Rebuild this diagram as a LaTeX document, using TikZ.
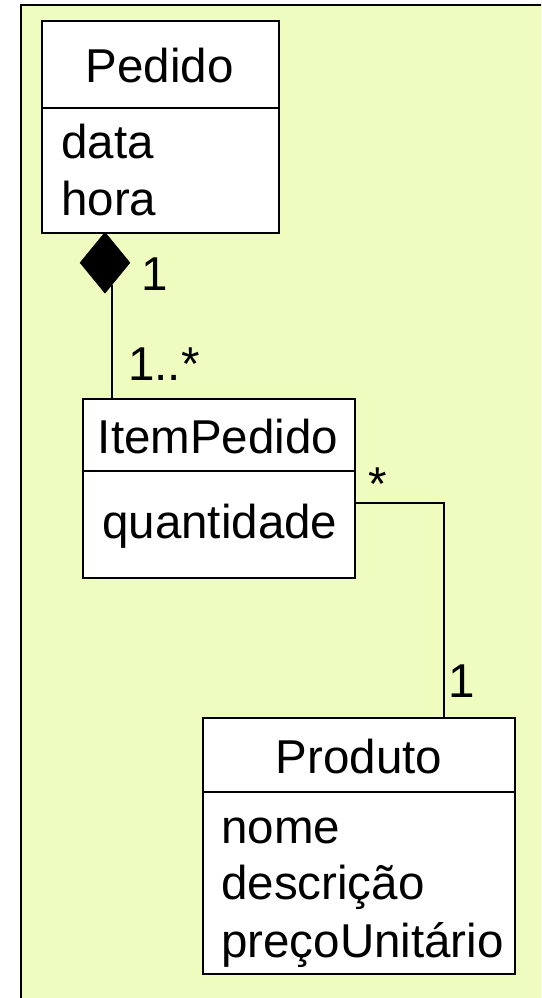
\documentclass[tikz,border=0pt]{standalone}
\usepackage{fontspec}
\setmainfont{Liberation Sans}
\usetikzlibrary{shapes.geometric}
\definecolor{bgc}{RGB}{238,252,192}
\begin{document}
\begin{tikzpicture}[x=1pt,y=-1pt,
  panel/.style={fill=bgc, draw=black, line width=2.5pt},
  umlbox/.style={draw=black, fill=white, line width=2pt, anchor=north west, inner sep=0pt},
  umltext/.style={font=\fontsize{47.5}{57}\selectfont, inner sep=0pt},
  link/.style={draw=black, line width=1.5pt},
  compdia/.style={diamond, fill=black, draw=black, line width=0.5pt, inner sep=0pt, minimum width=50pt, minimum height=61pt}
]
\useasboundingbox (0,0) rectangle (541,998);
\clip (0,0) rectangle (541,998);
\draw[panel] (21,5) rectangle (570,1030);

% Pedido
\node[umlbox, minimum width=237pt, minimum height=87pt] (pedH) at (41,20) {};
\node[umlbox, minimum width=237pt, minimum height=125pt] (pedB) at (41,107) {};
\node[umltext, anchor=base] (pedT) at (159.5,82) {Pedido};
\node[umltext, anchor=base west] (pedA1) at (61,158) {data};
\node[umltext, anchor=base west] (pedA2) at (61,215) {hora};

% ItemPedido
\node[umlbox, minimum width=272pt, minimum height=72pt] (itemH) at (82,398) {};
\node[umlbox, minimum width=272pt, minimum height=107pt] (itemB) at (82,470) {};
\node[umltext, anchor=base] (itemT) at (218,453) {ItemPedido};
\node[umltext, anchor=base west] (itemA1) at (102,538) {quantidade};

% Produto
\node[umlbox, minimum width=312pt, minimum height=74pt] (prodH) at (202,717) {};
\node[umlbox, minimum width=312pt, minimum height=182pt] (prodB) at (202,791) {};
\node[umltext, anchor=base] (prodT) at (359,773) {Produto};
\node[umltext, anchor=base west] (prodA1) at (221,843) {nome};
\node[umltext, anchor=base west] (prodA2) at (221,899) {descrição};
\node[umltext, anchor=base west] (prodA3) at (221,957) {preçoUnitário};

% composition
\node[compdia, anchor=north] (dia) at (105,232) {};
\coordinate (c1) at (112,285);
\draw[link] (c1) -- (c1 |- itemH.north);
\node[umltext, anchor=base] (m1) at (155,290) {1};
\node[umltext, anchor=base west] (m2) at (128,380) {1..*};

% association
\coordinate (bend) at (444,503);
\draw[link] (itemB.east |- bend) -- (bend) -- (bend |- prodH.north);
\node[umltext, anchor=base] (m3) at (377.5,500) {*};
\node[umltext, anchor=base] (m4) at (462,697) {1};
\end{tikzpicture}
\end{document}
